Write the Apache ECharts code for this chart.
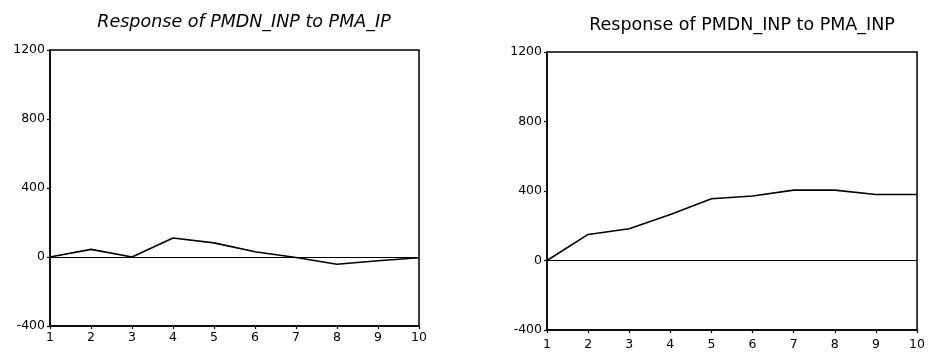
<!DOCTYPE html>
<html><head><meta charset="utf-8">
<script src="https://cdn.jsdelivr.net/npm/echarts@6/dist/echarts.min.js"></script>
<style>html,body{margin:0;padding:0;background:#fff}#c{width:928px;height:354px}</style>
</head><body><div id="c"></div>
<script>
const periods = [1,2,3,4,5,6,7,8,9,10];
const respToPMA_IP = [0,44,0,110,82,30,-3,-42,-22,-4];
const respToPMA_INP = [0,150,183,265,355,371,405,405,380,380];
const yTicks = [-400,0,400,800,1200];
const titles = ['Response of PMDN_INP to PMA_IP','Response of PMDN_INP to PMA_INP'];

const chart = echarts.init(document.getElementById('c'));
const grids = [
  {left:50, right:509, top:50, bottom:28},
  {left:547, right:7, top:52, bottom:24}
];
const lbl = {color:'#000', fontFamily:'DejaVu Sans', fontSize:12.5};
function xAx(i,m){return {type:'value', gridIndex:i, min:1, max:10, interval:1,
  axisLine:{show:true,onZero:false,lineStyle:{color:'#000',width:1.5}},
  axisTick:{show:true,length:3,lineStyle:{color:'#000',width:1.2}},
  axisLabel:Object.assign({margin:m},lbl), splitLine:{show:false}};}
function yAx(i){return {type:'value', gridIndex:i, min:yTicks[0], max:yTicks[yTicks.length-1], interval:400,
  axisLine:{show:true,onZero:false,lineStyle:{color:'#000',width:1.5}},
  axisTick:{show:true,length:3,lineStyle:{color:'#000',width:1.2}},
  axisLabel:Object.assign({margin:5, formatter:v=>String(v)},lbl), splitLine:{show:false}};}
function ser(i,vals){return {type:'line', xAxisIndex:i, yAxisIndex:i, data:periods.map((p,k)=>[p,vals[k]]),
  showSymbol:false, lineStyle:{color:'#000',width:1.6}, silent:true,
  markLine:{silent:true, symbol:'none', label:{show:false}, lineStyle:{color:'#000',width:1,type:'solid'}, data:[{yAxis:0}]}};}
const tStyle = {fontFamily:'DejaVu Sans', fontWeight:'normal', fontSize:17.5, color:'#000'};
chart.setOption({
  animation:false,
  title:[
    {text:titles[0], left:239, top:8, textAlign:'center', textStyle:Object.assign({fontStyle:'italic'},tStyle)},
    {text:titles[1], left:737, top:11, textAlign:'center', textStyle:tStyle}
  ],
  grid:grids.map(g=>Object.assign({show:true, borderColor:'#000', borderWidth:1.5, backgroundColor:'transparent'},g)),
  xAxis:[xAx(0,5),xAx(1,8)],
  yAxis:[yAx(0),yAx(1)],
  series:[ser(0,respToPMA_IP), ser(1,respToPMA_INP)]
});
</script></body></html>
